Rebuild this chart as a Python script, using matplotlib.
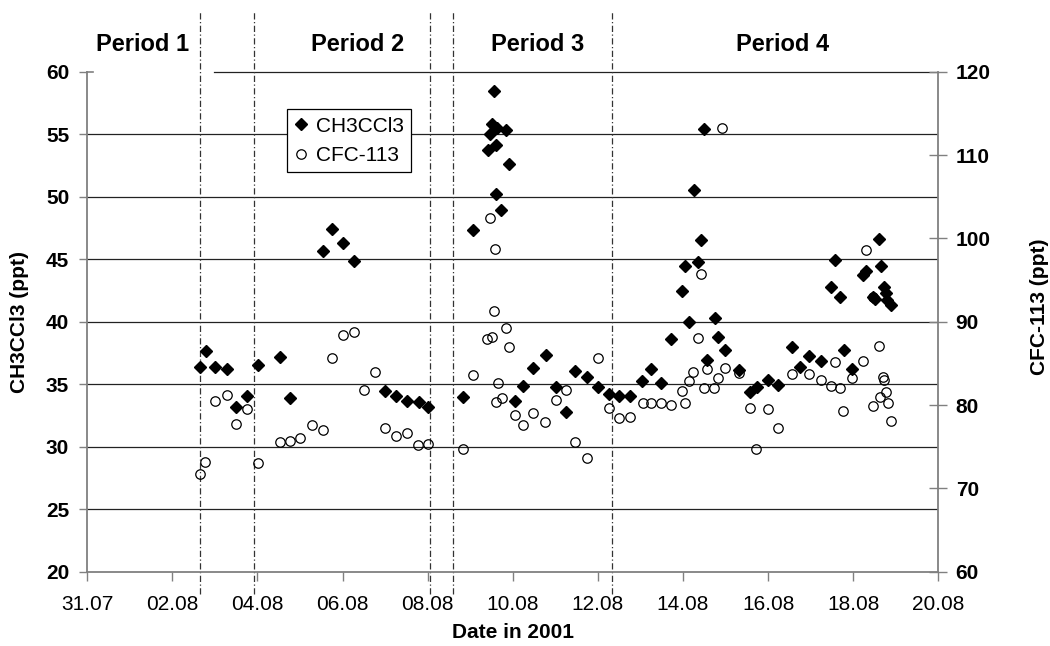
import matplotlib
matplotlib.use("Agg")
import matplotlib.pyplot as plt
from matplotlib.lines import Line2D
from matplotlib.transforms import blended_transform_factory

plt.rcParams["font.family"] = ["Liberation Sans", "DejaVu Sans"]

# time axis: days after 31.07.2001 00:00
ch3ccl3_day = [
    2.65, 2.78, 3.01, 3.28, 3.50, 3.76, 4.01, 4.53, 4.77, 5.54, 5.76, 6.02, 6.27,
    7.00, 7.26, 7.51, 7.79, 8.00,
    8.84, 9.07, 9.41, 9.46, 9.50, 9.56, 9.60, 9.60, 9.64, 9.73, 9.84, 9.92,
    10.04, 10.25, 10.48, 10.77, 11.02, 11.25, 11.47, 11.74, 11.99,
    12.26, 12.50, 12.75, 13.04, 13.25, 13.48, 13.72, 13.98, 14.05, 14.15, 14.25,
    14.35, 14.42, 14.49, 14.56, 14.74, 14.81, 14.99, 15.31, 15.58, 15.73, 15.99,
    16.22, 16.56, 16.75, 16.97, 17.24, 17.47, 17.57, 17.69, 17.78, 17.96, 18.23,
    18.30, 18.47, 18.52, 18.61, 18.64, 18.73, 18.77, 18.79, 18.89,
]
ch3ccl3_ppt = [
    36.35, 37.66, 36.35, 36.19, 33.15, 34.06, 36.54, 37.20, 33.87, 45.68, 47.39, 46.32, 44.83,
    34.46, 34.03, 33.66, 33.60, 33.18,
    33.98, 47.36, 53.74, 55.02, 55.79, 58.43, 54.16, 50.19, 55.47, 48.91, 55.34, 52.64,
    33.63, 34.86, 36.27, 37.31, 34.80, 32.80, 36.06, 35.58, 34.80,
    34.19, 34.06, 34.06, 35.28, 36.24, 35.12, 38.59, 42.48, 44.43, 39.95, 50.54,
    44.75, 46.51, 55.42, 36.91, 40.27, 38.80, 37.71, 36.11, 34.35, 34.78, 35.34,
    34.91, 37.98, 36.40, 37.28, 36.88, 42.75, 44.91, 42.00, 37.71, 36.24, 43.71,
    44.08, 41.95, 41.85, 46.64, 44.43, 42.75, 42.32, 41.74, 41.34,
]

cfc113_day = [
    2.65, 2.77, 3.01, 3.28, 3.50, 3.75, 4.01, 4.52, 4.77, 4.99, 5.29, 5.53, 5.74,
    6.02, 6.27, 6.50, 6.76, 7.00, 7.26, 7.51, 7.78, 8.00,
    8.84, 9.07, 9.39, 9.46, 9.51, 9.55, 9.59, 9.60, 9.65, 9.74, 9.83, 9.91,
    10.04, 10.25, 10.48, 10.76, 11.02, 11.24, 11.47, 11.74, 11.99,
    12.26, 12.50, 12.75, 13.05, 13.25, 13.48, 13.72, 13.98, 14.05, 14.15, 14.24,
    14.34, 14.42, 14.49, 14.56, 14.73, 14.81, 14.92, 14.99, 15.31, 15.57, 15.72,
    15.99, 16.23, 16.55, 16.96, 17.24, 17.47, 17.56, 17.68, 17.77, 17.96, 18.24,
    18.29, 18.47, 18.47, 18.61, 18.62, 18.69, 18.72, 18.76, 18.82, 18.89,
]
cfc113_ppt = [
    71.7, 73.2, 80.5, 81.2, 77.7, 79.5, 73.1, 75.6, 75.7, 76.0, 77.6, 77.0, 85.6,
    88.4, 88.8, 81.8, 84.0, 77.2, 76.3, 76.6, 75.2, 75.3,
    74.7, 83.6, 87.9, 102.5, 88.2, 91.3, 98.7, 80.4, 82.6, 80.8, 89.2, 87.0,
    78.8, 77.6, 79.0, 78.0, 80.6, 81.8, 75.6, 73.7, 85.7,
    79.6, 78.5, 78.6, 80.2, 80.3, 80.2, 80.0, 81.7, 80.3, 82.9, 84.0,
    88.1, 95.7, 82.0, 84.3, 82.1, 83.3, 113.3, 84.4, 83.9, 79.6, 74.7,
    79.5, 77.3, 83.7, 83.7, 83.0, 82.3, 85.2, 82.0, 79.3, 83.2, 85.3,
    98.6, 79.9, 93.0, 87.1, 81.0, 83.4, 83.0, 81.6, 80.2, 78.1,
]

period_bounds = [2.65, 3.92, 8.05, 8.60, 12.33]
period_names = ["Period 1", "Period 2", "Period 3", "Period 4"]
period_label_day = [1.31, 6.35, 10.59, 16.35]

date_ticks = [0, 2, 4, 6, 8, 10, 12, 14, 16, 18, 20]
date_labels = ["31.07", "02.08", "04.08", "06.08", "08.08", "10.08",
               "12.08", "14.08", "16.08", "18.08", "20.08"]
left_ticks = [20, 25, 30, 35, 40, 45, 50, 55, 60]
right_ticks = [60, 70, 80, 90, 100, 110, 120]

spine_grey = "#808080"

fig = plt.figure(figsize=(10.5, 6.46), dpi=100)
ax = fig.add_axes([0.0831, 0.115, 0.8106, 0.774])
ax2 = ax.twinx()

ax.set_xlim(0, 20)
ax.set_ylim(20, 60)
ax2.set_ylim(60, 120)

# horizontal grid, the top one is partly hidden behind the "Period 1" box
for v in left_ticks[1:-1]:
    ax.axhline(v, color="#222222", lw=0.9, zorder=1)
ax.axhline(60, xmin=0.149, xmax=1, color="#222222", lw=0.9, zorder=1, clip_on=False)
ax.axhline(60, xmin=0, xmax=0.0063, color=spine_grey, lw=1.2, zorder=1, clip_on=False)

for b in period_bounds:
    ax.axvline(b, ymin=-0.045, ymax=1.12, color="#333333", lw=0.9,
               linestyle=(0, (5, 2, 1, 2)), zorder=2, clip_on=False)

trans = blended_transform_factory(ax.transData, ax.transAxes)
for name, d in zip(period_names, period_label_day):
    ax.text(d, 1.055, name, transform=trans, ha="center", va="center",
            fontsize=17, fontweight="bold")

ax.plot(ch3ccl3_day, ch3ccl3_ppt, linestyle="none", marker="D", markersize=5.8,
        color="black", zorder=3)
ax2.plot(cfc113_day, cfc113_ppt, linestyle="none", marker="o", markersize=6.8,
         markerfacecolor="none", markeredgecolor="black", markeredgewidth=0.9, zorder=3)

ax.set_xticks(date_ticks)
ax.set_xticklabels(date_labels)
ax.set_yticks(left_ticks)
ax2.set_yticks(right_ticks)

for sp in ["top", "right"]:
    ax.spines[sp].set_visible(False)
for sp in ["top", "left", "bottom"]:
    ax2.spines[sp].set_visible(False)
for sp in [ax.spines["left"], ax.spines["bottom"], ax2.spines["right"]]:
    sp.set_color(spine_grey)
    sp.set_linewidth(1.3)

ax.tick_params(axis="x", direction="out", length=6.5, width=1, color=spine_grey,
               labelsize=15, pad=10)
ax.tick_params(axis="y", direction="out", length=6, width=1, color=spine_grey,
               labelsize=15, pad=7)
ax2.tick_params(axis="y", direction="inout", length=13, width=1, color=spine_grey,
                labelsize=15, pad=6)
for lab in ax.get_yticklabels() + ax2.get_yticklabels():
    lab.set_fontweight("bold")

ax.set_xlabel("Date in 2001", fontsize=15, fontweight="bold")
ax.xaxis.set_label_coords(0.5, -0.102)
ax.set_ylabel("CH3CCl3 (ppt)", fontsize=15, fontweight="bold")
ax.yaxis.set_label_coords(-0.069, 0.5)
ax2.set_ylabel("CFC-113 (ppt)", fontsize=15, fontweight="bold")
ax2.yaxis.set_label_coords(1.108, 0.53)

handles = [
    Line2D([], [], linestyle="none", marker="D", markersize=5.8, color="black"),
    Line2D([], [], linestyle="none", marker="o", markersize=6.8,
           markerfacecolor="none", markeredgecolor="black", markeredgewidth=0.9),
]
leg = ax2.legend(handles, ["CH3CCl3", "CFC-113"], loc="upper left",
                 bbox_to_anchor=(0.2343, 0.9248), borderaxespad=0, fontsize=15,
                 frameon=True, fancybox=False, framealpha=1, edgecolor="black",
                 handlelength=0.7, handletextpad=0.35, borderpad=0.35,
                 labelspacing=0.5)
leg.get_frame().set_linewidth(0.9)

fig.savefig("out.png", dpi=100)
